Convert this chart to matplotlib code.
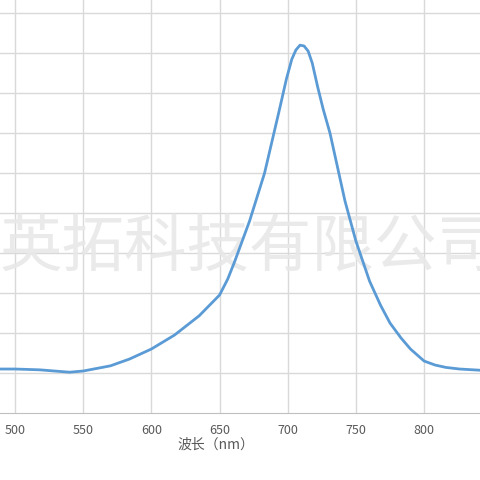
import matplotlib
matplotlib.use("Agg")
import matplotlib.pyplot as plt

wavelength = [489, 500, 518, 540, 550, 570, 584, 600, 617, 635, 650, 656, 661, 672, 683, 694,
              699, 703, 706, 709, 712, 715, 718, 722, 726, 731, 742, 750, 760, 768, 775, 783,
              790, 796, 800, 808, 816, 826, 841]
intensity = [1.10, 1.10, 1.08, 1.02, 1.05, 1.18, 1.35, 1.60, 1.95, 2.43, 2.95, 3.35, 3.78,
             4.80, 6.00, 7.60, 8.35, 8.85, 9.08, 9.20, 9.18, 9.05, 8.75, 8.15, 7.60, 7.00,
             5.30, 4.30, 3.30, 2.70, 2.25, 1.88, 1.60, 1.42, 1.30, 1.20, 1.14, 1.10, 1.07]
xticks = [500, 550, 600, 650, 700, 750, 800]

plt.rcParams['font.family'] = ['Noto Sans CJK SC', 'DejaVu Sans']
fig = plt.figure(figsize=(4.8, 4.8), dpi=100)
ax = fig.add_axes([0, 1 - 413/480, 1, 413/480])
ax.plot(wavelength, intensity, color='#5B9BD5', lw=2, zorder=3)
ax.set_xlim(489, 841)
ax.set_ylim(0, 10.33)
ax.set_xticks(xticks)
ax.set_yticks(range(1, 11))
ax.set_yticklabels([])
ax.grid(True, color='#D9D9D9', lw=1)
ax.set_axisbelow(True)
for s in ['top', 'right', 'left']:
    ax.spines[s].set_visible(False)
ax.spines['bottom'].set_color('#BFBFBF')
ax.tick_params(axis='both', length=0, colors='#595959', labelsize=9, pad=8)
ax.set_xlabel('波长（nm）', color='#595959', fontsize=10, labelpad=4)
ax.xaxis.set_label_coords(0.45, -0.06)
ax.text(0.0, 0.40, '英拓科技有限公司', fontsize=45, color='#E8E8E8', va='center',
        ha='left', zorder=2, transform=ax.transAxes, alpha=0.9)
fig.savefig('out.png', dpi=100)
